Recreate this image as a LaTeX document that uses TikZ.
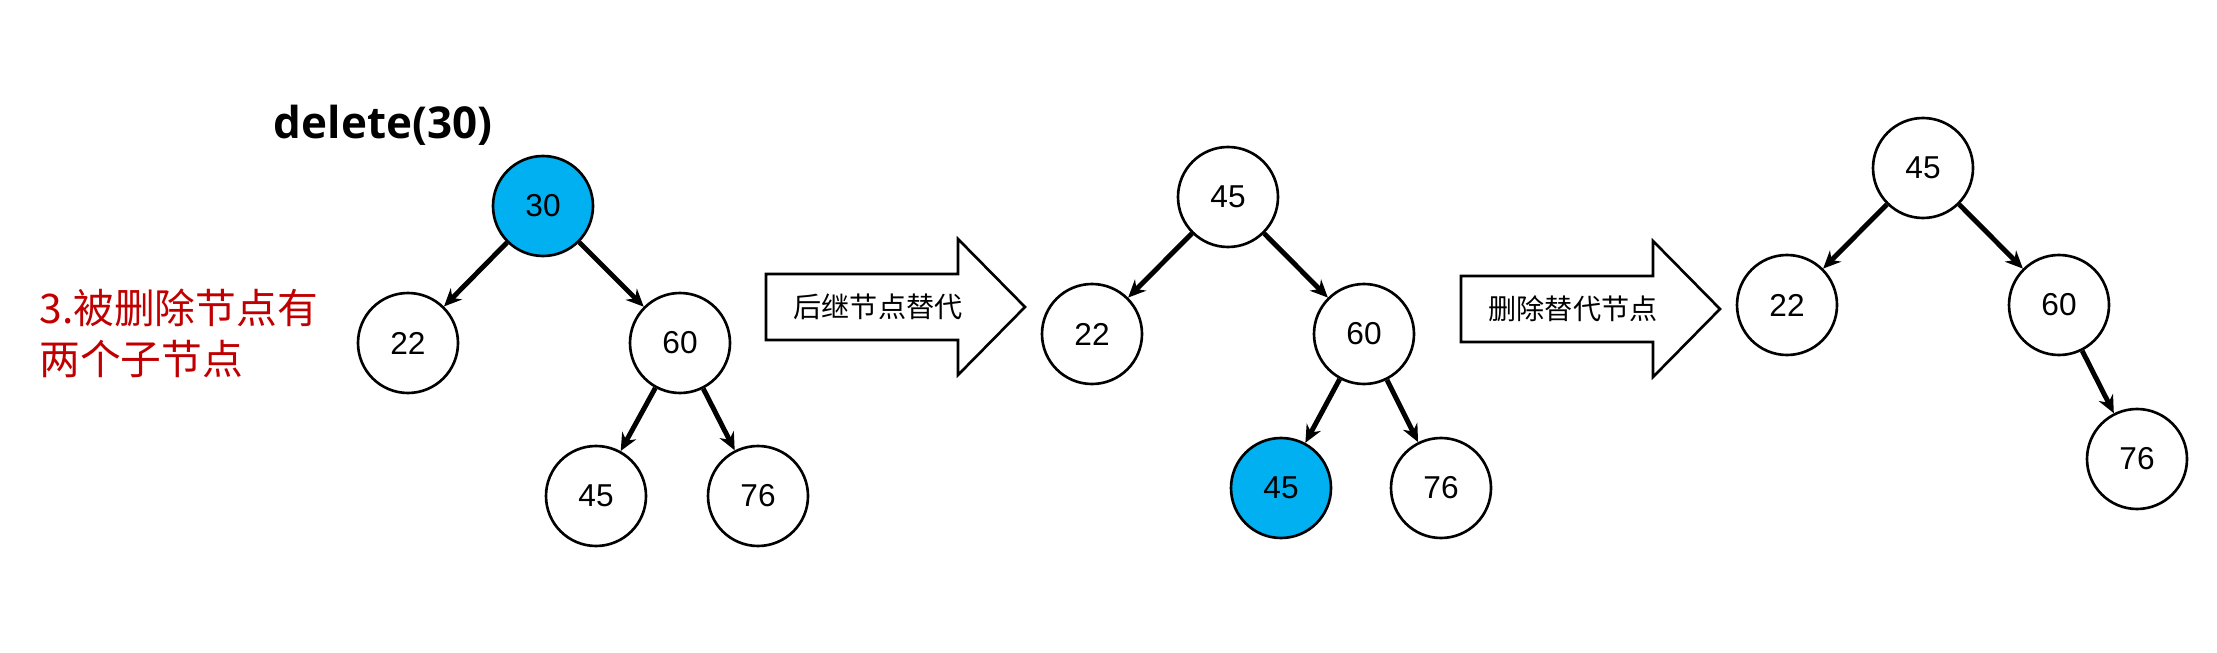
\documentclass[tikz,border=0pt]{standalone}
\usepackage{fontspec}
\usepackage{xcolor}
\usetikzlibrary{arrows.meta}
\setmainfont{Liberation Sans}
\newfontfamily\cjk{Noto Sans CJK SC}
\newfontfamily\titlefont{Open Sans}
\definecolor{Node_Cyan}{HTML}{00B0F0}
\definecolor{Note_Red}{HTML}{C00000}

\tikzset{
  treenode/.style={circle, draw, line width=0.75pt, minimum size=1cm, inner sep=0pt, font=\fontsize{9}{10}\selectfont},
  hitnode/.style={treenode, fill=Node_Cyan},
  treeedge/.style={->, line width=1.4pt},
  stepnote/.style={font=\cjk\fontsize{8}{9}\selectfont}
}

\begin{document}
\begin{tikzpicture}[>={Stealth[length=5pt,width=4.5pt]}]
    \useasboundingbox (0,0) rectangle (22.17,-6.53);

    % Title and note
    \node[font=\titlefont\bfseries\fontsize{12.5}{14}\selectfont] (title) at (3.83,-1.25) {delete(30)};
    \node[anchor=west, align=left, Note_Red, font=\cjk\fontsize{11.6}{14.5}\selectfont] (note) at (0.27,-3.33) {3.被删除节点有\\两个子节点};

    % Tree before deletion
    \node[hitnode] (a30) at (5.43,-2.06) {30};
    \node[treenode] (a22) at (4.08,-3.43) {22};
    \node[treenode] (a60) at (6.80,-3.43) {60};
    \node[treenode] (a45) at (5.96,-4.96) {45};
    \node[treenode] (a76) at (7.58,-4.96) {76};
    \draw[treeedge] (a30) -- (a22);
    \draw[treeedge] (a30) -- (a60);
    \draw[treeedge] (a60) -- (a45);
    \draw[treeedge] (a60) -- (a76);

    % Block arrow: successor replaces
    \begin{scope}[shift={(7.66,-3.07)}]
        \draw[line width=0.75pt] (0,0.33) -- (1.92,0.33) -- (1.92,0.68) -- (2.59,0)
            -- (1.92,-0.68) -- (1.92,-0.33) -- (0,-0.33) -- cycle;
        \node[stepnote] (step1) at (1.12,0) {后继节点替代};
    \end{scope}

    % Tree after replacement
    \node[treenode] (b45) at (12.28,-1.97) {45};
    \node[treenode] (b22) at (10.92,-3.34) {22};
    \node[treenode] (b60) at (13.64,-3.34) {60};
    \node[hitnode] (b45s) at (12.81,-4.88) {45};
    \node[treenode] (b76) at (14.41,-4.88) {76};
    \draw[treeedge] (b45) -- (b22);
    \draw[treeedge] (b45) -- (b60);
    \draw[treeedge] (b60) -- (b45s);
    \draw[treeedge] (b60) -- (b76);

    % Block arrow: delete the replacement
    \begin{scope}[shift={(14.61,-3.09)}]
        \draw[line width=0.75pt] (0,0.33) -- (1.92,0.33) -- (1.92,0.68) -- (2.59,0)
            -- (1.92,-0.68) -- (1.92,-0.33) -- (0,-0.33) -- cycle;
        \node[stepnote] (step2) at (1.12,0) {删除替代节点};
    \end{scope}

    % Final tree
    \node[treenode] (c45) at (19.23,-1.68) {45};
    \node[treenode] (c22) at (17.87,-3.05) {22};
    \node[treenode] (c60) at (20.59,-3.05) {60};
    \node[treenode] (c76) at (21.37,-4.59) {76};
    \draw[treeedge] (c45) -- (c22);
    \draw[treeedge] (c45) -- (c60);
    \draw[treeedge] (c60) -- (c76);

\end{tikzpicture}
\end{document}
